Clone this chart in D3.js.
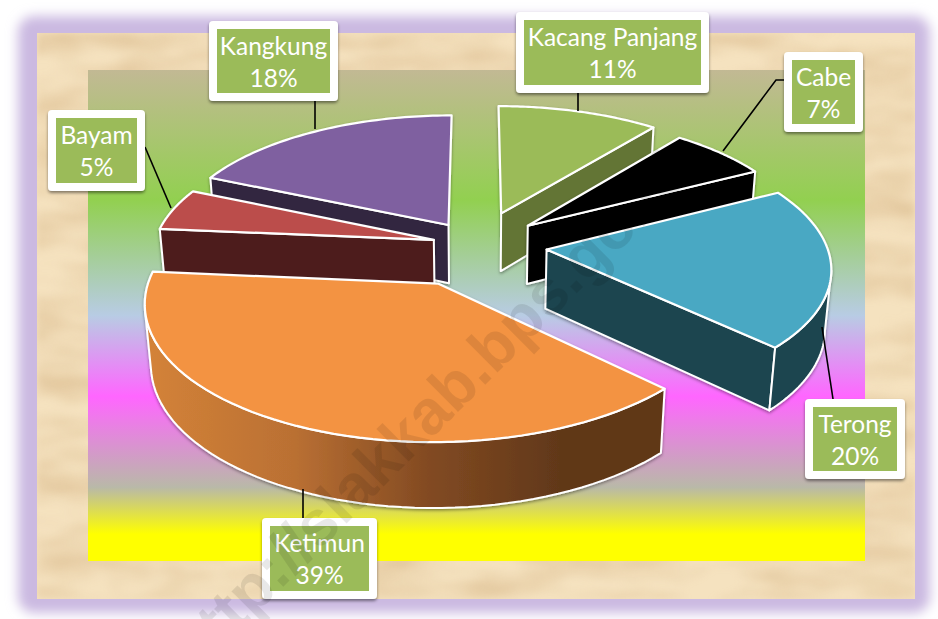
<!DOCTYPE html>
<html><head><meta charset="utf-8">
<script src="https://cdn.jsdelivr.net/npm/d3@7/dist/d3.min.js"></script>
<style>html,body{margin:0;padding:0;background:#fff;overflow:hidden}svg{display:block}</style>
</head><body>
<script>
// ---- data ----
const categories = ["Kacang Panjang","Cabe","Terong","Ketimun","Bayam","Kangkung"];
const values     = [10.7,6.6,19.9,39.2,5.2,18.4];
const explosions = [0.27,0.24,0.25,0.32,0.16,0.19];
const topColors  = ["#9BBB59","#000000","#49A8C3","#F39343","#BB4E4B","#7F60A0"];
const wallColors = ["#637536","#000000","#1D444F","url(#wallK)","#4E1D1D","#33273F"];
const drawOrder  = [0,1,2,5,4,3];
// ---- label layout: outer box [x,y,w,h] and leader polyline ----
const labelBoxes = [[516,12,193,81],[784,52,79,80],[805,399,100,80],[262,518,115,81],[48,110,97,81],[209,21,129,80]];
const leaders = [
  [[578,93],[578,111]],
  [[784,80],[776,80],[723,151]],
  [[822,327],[833,399]],
  [[303,489],[303,518]],
  [[145,147],[171,208]],
  [[315,101],[315,129]]
];
const W=938,H=619;
const svg=d3.select("body").append("svg").attr("width",W).attr("height",H);
const defs=svg.append("defs");

// blur / shadow filters
defs.append("filter").attr("id","soft").attr("x","-10%").attr("y","-10%").attr("width","120%").attr("height","120%")
  .append("feGaussianBlur").attr("stdDeviation",6);
function shadow(id,dy,sd,op){
  const f=defs.append("filter").attr("id",id).attr("x","-20%").attr("y","-20%").attr("width","140%").attr("height","140%");
  f.append("feDropShadow").attr("dx",0).attr("dy",dy).attr("stdDeviation",sd).attr("flood-color","#000").attr("flood-opacity",op);
}
shadow("boxShadow",2,1.6,.45);
shadow("pieShadow",1.5,1.6,.4);
const tex=defs.append("filter").attr("id","tex").attr("x",0).attr("y",0).attr("width","100%").attr("height","100%")
  .attr("color-interpolation-filters","sRGB");
tex.append("feTurbulence").attr("type","fractalNoise").attr("baseFrequency","0.012 0.04").attr("numOctaves",3).attr("seed",11).attr("result","n");
tex.append("feColorMatrix").attr("in","n").attr("type","matrix")
  .attr("values","0 0 0 0 0.80  0 0 0 0 0.65  0 0 0 0 0.45  0.8 0 0 0 -0.26").attr("result","c");
tex.append("feGaussianBlur").attr("in","c").attr("stdDeviation","3");

// gradients
const bg=defs.append("linearGradient").attr("id","bgGrad").attr("x1",0).attr("y1",0).attr("x2",0).attr("y2",1);
[[0,"#C2B994"],[.265,"#92D050"],[.50,"#B8CCE4"],[.665,"#FF66FF"],[.85,"#B9B9A8"],[.945,"#FFFF00"],[1,"#FFFF00"]]
  .forEach(s=>bg.append("stop").attr("offset",s[0]).attr("stop-color",s[1]));
const wk=defs.append("linearGradient").attr("id","wallK").attr("gradientUnits","userSpaceOnUse")
  .attr("x1",150).attr("x2",560).attr("y1",0).attr("y2",0);
[[0,"#D38238"],[.35,"#BA7033"],[.68,"#824A22"],[1,"#613819"]]
  .forEach(s=>wk.append("stop").attr("offset",s[0]).attr("stop-color",s[1]));

// background layers
svg.append("rect").attr("x",18).attr("y",16).attr("width",912).attr("height",597).attr("rx",16)
  .attr("fill","#CBB9E1").attr("filter","url(#soft)");
svg.append("rect").attr("x",37).attr("y",33).attr("width",878).attr("height",566).attr("fill","#F5E2BF");
defs.append("clipPath").attr("id","texClip").append("rect").attr("x",37).attr("y",33).attr("width",878).attr("height",566);
svg.append("g").attr("clip-path","url(#texClip)")
  .append("rect").attr("x",37).attr("y",33).attr("width",878).attr("height",566).attr("filter","url(#tex)");
svg.append("rect").attr("x",88).attr("y",70).attr("width",777).attr("height",491).attr("fill","url(#bgGrad)");

// 3D projection of the pie plane
const cx=477,cy=245,A=280,B=128,K=0.125,M=0.018,DEPTH=60;
const sxScale=d3.scaleLinear().domain([0,1]).range([0,A]);
const syScale=d3.scaleLinear().domain([0,1]).range([0,-B]);
function proj(X,Y,z){
  const w=1+K*Y+M*z;
  return [cx+sxScale(X)/w, cy+(syScale(Y)+DEPTH*z)/w];
}
const arcsData=d3.pie().sort(null).value(d=>d).startAngle(0).endAngle(2*Math.PI)(values);
const line=d3.line();
const gPie=svg.append("g");
drawOrder.forEach(i=>{
  const d=arcsData[i], mid=(d.startAngle+d.endAngle)/2, e=explosions[i];
  const ox=e*Math.sin(mid), oy=e*Math.cos(mid);
  const P=(a,r,z)=>proj(ox+r*Math.sin(a),oy+r*Math.cos(a),z);
  const angles=d3.range(0,61).map(t=>d.startAngle+(d.endAngle-d.startAngle)*t/60);
  const g=gPie.append("g").attr("filter","url(#pieShadow)")
    .attr("stroke","#fff").attr("stroke-width",2).attr("stroke-linejoin","round");
  const flat=i===3?"#613819":wallColors[i];
  // only the radial faces that look at the viewer
  if(Math.sin(d.startAngle)<-1e-3)
    g.append("path").attr("fill",flat).attr("d",line([P(0,0,0),P(d.startAngle,1,0),P(d.startAngle,1,1),P(0,0,1)])+"Z");
  if(Math.sin(d.endAngle)>1e-3)
    g.append("path").attr("fill",flat).attr("d",line([P(0,0,0),P(d.endAngle,1,0),P(d.endAngle,1,1),P(0,0,1)])+"Z");
  // outer wall: keep only the front-facing part of the rim
  const vis=angles.filter((a,k)=>{
    const n=Math.min(k+1,60), m=n-1;
    return P(angles[n],1,0)[0]-P(angles[m],1,0)[0]<0;
  });
  if(vis.length>1){
    const t=vis.map(a=>P(a,1,0)), b=vis.map(a=>P(a,1,1)).reverse();
    g.append("path").attr("fill",wallColors[i]).attr("d",line(t.concat(b))+"Z");
  }
  // top face
  g.append("path").attr("fill",topColors[i]).attr("stroke-width",2.2)
    .attr("d",line([P(0,0,0)].concat(angles.map(a=>P(a,1,0))))+"Z");
});

// leaders
svg.append("g").selectAll("path").data(leaders).join("path")
  .attr("d",d=>line(d)).attr("fill","none").attr("stroke","#000").attr("stroke-width",1.6);

// labels
const fmt=d3.format(".0f");
const gL=svg.append("g");
categories.forEach((c,i)=>{
  const [x,y,w,h]=labelBoxes[i];
  gL.append("rect").attr("x",x).attr("y",y).attr("width",w).attr("height",h).attr("rx",4)
    .attr("fill","#fff").attr("filter","url(#boxShadow)");
  gL.append("rect").attr("x",x+8).attr("y",y+8).attr("width",w-16).attr("height",h-16).attr("fill","#9BBB59");
  const t=gL.append("text").attr("text-anchor","middle").attr("fill","#fff")
    .attr("font-family","Lato, 'Open Sans', sans-serif").attr("font-size",24.5);
  t.append("tspan").attr("x",x+w/2).attr("y",y+34).text(c);
  t.append("tspan").attr("x",x+w/2).attr("y",y+66).text(fmt(values[i])+"%");
});

// watermark
svg.append("text").attr("transform","translate(195,675) rotate(-45)")
  .attr("font-family","'Liberation Sans', Arial, sans-serif").attr("font-weight","bold").attr("font-size",63)
  .attr("fill","#000").attr("fill-opacity",.09)
  .text("http://slakkab.bps.go.id");
</script>
</body></html>
